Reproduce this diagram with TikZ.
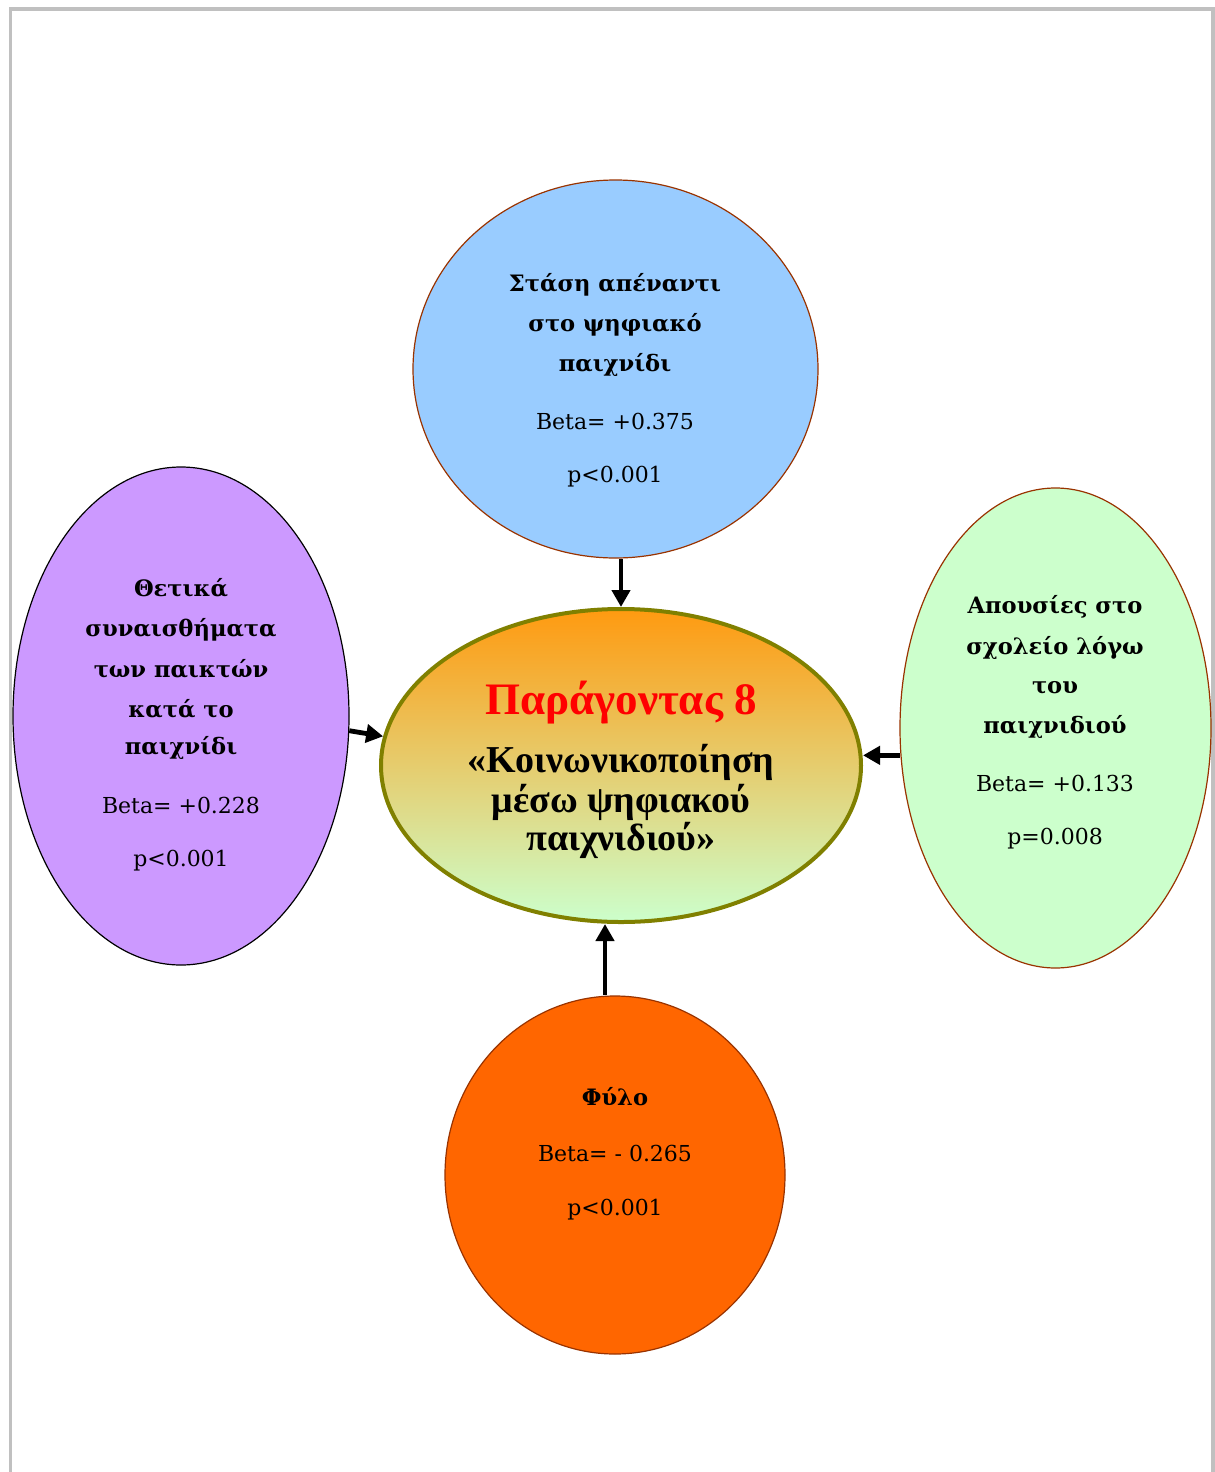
\documentclass[tikz,border=0pt]{standalone}
\usepackage{fontspec}
\setmainfont{DejaVu Serif}
\newfontfamily\titlefont{Liberation Serif}
\usetikzlibrary{shapes.geometric,arrows.meta}
\definecolor{frameg}{HTML}{C0C0C0}
\definecolor{skyb}{HTML}{99CCFF}
\definecolor{lilac}{HTML}{CC99FF}
\definecolor{mint}{HTML}{CCFFCC}
\definecolor{orng}{HTML}{FF6600}
\definecolor{rust}{HTML}{993300}
\definecolor{olive8}{HTML}{808000}
\definecolor{gradtop}{HTML}{FF9A10}
\definecolor{gradmid}{HTML}{EDC68A}
\tikzset{
  bubble/.style={ellipse, inner sep=0pt, line width=0.6pt},
  boldtxt/.style={font=\fontsize{11.3}{13}\selectfont\bfseries, inner sep=0pt},
  stattxt/.style={font=\fontsize{11}{13}\selectfont, inner sep=0pt},
  titletxt/.style={inner sep=0pt, font=\titlefont\fontsize{19}{22}\selectfont\bfseries},
  arr/.style={line width=2.4pt, -{Triangle[length=8.5pt,width=9pt]}},
}
\begin{document}
\begin{tikzpicture}[x=0.5pt, y=-0.5pt]
  \useasboundingbox (0,0) rectangle (1215,1472);
  % page frame
  \draw[frameg, line width=1.8pt] (10.5,1472) -- (10.5,9) -- (1213,9) -- (1213,1472);

  % surrounding factors
  \node[bubble, draw=rust, fill=skyb, minimum width=202.5pt, minimum height=189pt] (top) at (615.5,369) {};
  \node[bubble, draw=black, fill=lilac, minimum width=168pt, minimum height=249pt] (lft) at (181,716) {};
  \node[bubble, draw=rust, fill=mint, minimum width=155.5pt, minimum height=240pt] (rgt) at (1055.5,728) {};
  \node[bubble, draw=rust, fill=orng, minimum width=170pt, minimum height=179pt] (bot) at (615,1175) {};

  % central factor
  \node[ellipse, inner sep=0pt, draw=olive8, line width=2pt,
        top color=gradtop, middle color=gradmid, bottom color=mint,
        minimum width=240pt, minimum height=156.5pt] (ctr) at (621,765.5) {};

  % texts
  \node[boldtxt] (t1) at (615,285) {Στάση απέναντι};
  \node[boldtxt] (t2) at (615,325) {στο ψηφιακό};
  \node[boldtxt] (t3) at (615,365) {παιχνίδι};
  \node[stattxt] (t4) at (615,421) {Beta= +0.375};
  \node[stattxt] (t5) at (615,477) {p<0.001};

  \node[boldtxt] (l1) at (181,588) {Θετικά};
  \node[boldtxt] (l2) at (181,630) {συναισθήματα};
  \node[boldtxt] (l3) at (181,669) {των παικτών};
  \node[boldtxt] (l4) at (181,709) {κατά το};
  \node[boldtxt] (l5) at (181,748) {παιχνίδι};
  \node[stattxt] (l6) at (181,805) {Beta= +0.228};
  \node[stattxt] (l7) at (181,861) {p<0.001};

  \node[boldtxt] (r1) at (1055,607) {Απουσίες στο};
  \node[boldtxt] (r2) at (1055,648) {σχολείο λόγω};
  \node[boldtxt] (r3) at (1055,688) {του};
  \node[boldtxt] (r4) at (1055,727) {παιχνιδιού};
  \node[stattxt] (r5) at (1055,783) {Beta= +0.133};
  \node[stattxt] (r6) at (1055,839) {p=0.008};

  \node[boldtxt] (b1) at (615,1097) {Φύλο};
  \node[stattxt] (b2) at (615,1153) {Beta= - 0.265};
  \node[stattxt] (b3) at (615,1210) {p<0.001};

  \node[titletxt, text=red, font=\titlefont\fontsize{22.5}{26}\selectfont\bfseries] (c1) at (621,703) {Παράγοντας 8};
  \node[titletxt] (c2) at (621,762) {«Κοινωνικοποίηση};
  \node[titletxt] (c3) at (621,802) {μέσω ψηφιακού};
  \node[titletxt] (c4) at (621,840) {παιχνιδιού»};

  % influence arrows
  \draw[arr] (top.south -| ctr.north) -- (ctr.north);
  \draw[arr] (lft.-5) -- (ctr.173);
  \draw[arr] (rgt.190) -- (rgt.190 -| ctr.east);
  \draw[arr] ([xshift=-5pt]bot.north) -- ([xshift=-5pt]bot.north |- ctr.south);
\end{tikzpicture}
\end{document}
